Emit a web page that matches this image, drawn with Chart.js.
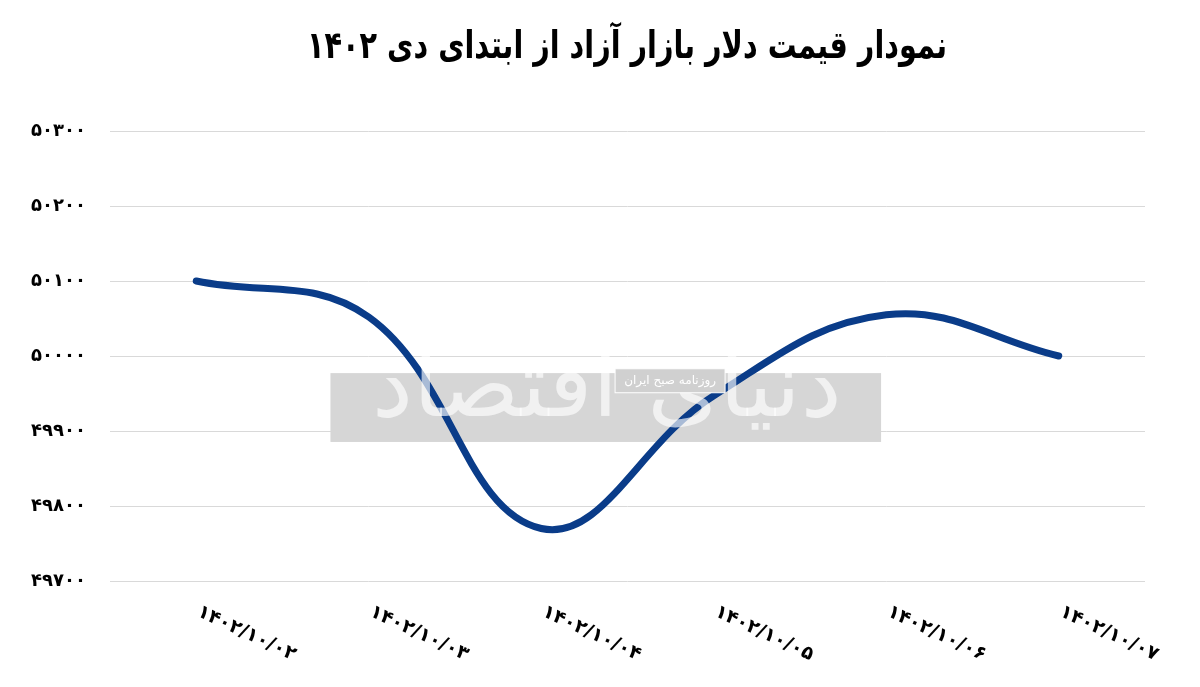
<!DOCTYPE html>
<html>
<head>
<meta charset="utf-8">
<script src="https://cdn.jsdelivr.net/npm/chart.js@4.4.1/dist/chart.umd.min.js"></script>
<style>
  html, body { margin: 0; padding: 0; background: #ffffff; }
  #wrap { width: 1200px; height: 687px; position: relative; }
</style>
</head>
<body>
<div id="wrap"><canvas id="dollarChart" width="1200" height="687"></canvas></div>
<script>
const chartTitle = 'نمودار قیمت دلار بازار آزاد از ابتدای دی ۱۴۰۲';
const dates = ['1402/10/02', '1402/10/03', '1402/10/04', '1402/10/05', '1402/10/06', '1402/10/07'];
const prices = [50100, 50052, 49770, 49947, 50055, 50000];
const yTicks = [49700, 49800, 49900, 50000, 50100, 50200, 50300];

// Persian digits for labels
function toFa(s) {
    return String(s).replace(/[0-9]/g, d => '۰۱۲۳۴۵۶۷۸۹'[d]);
}

const faFont = '"DejaVu Sans", sans-serif';

// title + rotated date labels + watermark
const decorPlugin = {
    id: 'decor',
    beforeDatasetsDraw(chart) {
        const ctx = chart.ctx;
        const a = chart.chartArea;
        const w = a.right - a.left;
        const h = a.bottom - a.top;
        ctx.save();
        // gray watermark band
        ctx.fillStyle = '#d6d6d6';
        ctx.fillRect(a.left + w * 0.213, a.top + h * 0.538, w * 0.532, h * 0.153);
        ctx.restore();
    },
    afterDatasetsDraw(chart) {
        const ctx = chart.ctx;
        const a = chart.chartArea;
        const w = a.right - a.left;
        const h = a.bottom - a.top;
        ctx.save();
        ctx.globalAlpha = 0.65;
        ctx.fillStyle = '#ffffff';
        ctx.font = '92px ' + faFont;
        ctx.textAlign = 'center';
        ctx.textBaseline = 'middle';
        ctx.direction = 'rtl';
        ctx.fillText('دنیای اقتصاد', a.left + w * 0.48, a.top + h * 0.58);
        ctx.globalAlpha = 1;
        // small tag
        const tx = a.left + w * 0.488, ty = a.top + h * 0.555;
        ctx.fillStyle = '#d0d0d0';
        ctx.fillRect(tx, ty - 12, 110, 24);
        ctx.strokeStyle = '#ffffff';
        ctx.lineWidth = 1;
        ctx.strokeRect(tx, ty - 12, 110, 24);
        ctx.fillStyle = '#ffffff';
        ctx.font = '12px ' + faFont;
        ctx.fillText('روزنامه صبح ایران', tx + 55, ty);
        ctx.restore();
    },
    afterDraw(chart) {
        const ctx = chart.ctx;
        const x = chart.scales.x;
        ctx.save();
        // title, squeezed to the reference width
        ctx.fillStyle = '#000000';
        ctx.font = 'bold 38px ' + faFont;
        ctx.textAlign = 'center';
        ctx.textBaseline = 'middle';
        ctx.direction = 'rtl';
        const tw = ctx.measureText(chartTitle).width;
        ctx.save();
        ctx.translate(627, 48);
        ctx.scale(Math.min(1, 640 / tw), 1);
        ctx.fillText(chartTitle, 0, 0);
        ctx.restore();
        // x labels, rotated clockwise
        ctx.direction = 'ltr';
        ctx.font = 'bold 19px ' + faFont;
        ctx.textAlign = 'left';
        ctx.textBaseline = 'middle';
        dates.forEach((d, i) => {
            const px = x.getPixelForValue(i);
            ctx.save();
            ctx.translate(px + 2, chart.chartArea.bottom + 30);
            ctx.rotate(25 * Math.PI / 180);
            ctx.fillText(toFa(d), 0, 0);
            ctx.restore();
        });
        ctx.restore();
    }
};

const ctx = document.getElementById('dollarChart').getContext('2d');
new Chart(ctx, {
    type: 'line',
    data: {
        labels: dates,
        datasets: [{
            data: prices,
            borderColor: '#0a3c89',
            borderWidth: 7,
            borderCapStyle: 'round',
            pointRadius: 0,
            tension: 0.4,
            fill: false
        }]
    },
    options: {
        responsive: false,
        animation: false,
        layout: { padding: { top: 131, right: 55, left: 0, bottom: 0 } },
        plugins: {
            legend: { display: false },
            tooltip: { enabled: false },
            title: { display: false }
        },
        scales: {
            x: {
                offset: true,
                grid: { display: false },
                border: { display: false },
                ticks: { display: false },
                afterFit(scale) { scale.height = 106; }
            },
            y: {
                min: 49700,
                max: 50300,
                afterBuildTicks(scale) { scale.ticks = yTicks.map(v => ({ value: v })); },
                grid: { color: '#d9d9d9', lineWidth: 1, drawTicks: false },
                border: { display: false },
                ticks: {
                    padding: 24,
                    color: '#000000',
                    font: { family: faFont, size: 18, weight: 'bold' },
                    callback: v => toFa(v)
                },
                afterFit(scale) { scale.width = 110; }
            }
        }
    },
    plugins: [decorPlugin]
});
</script>
</body>
</html>
